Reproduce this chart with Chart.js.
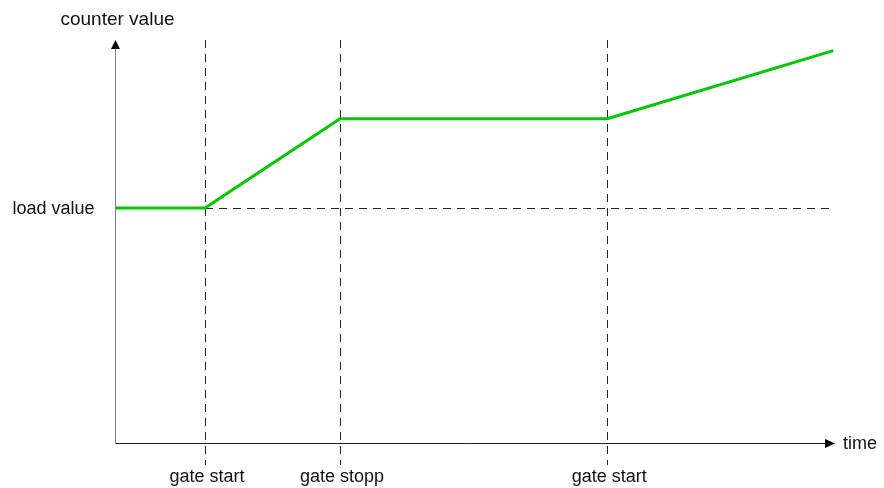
<!DOCTYPE html>
<html>
<head>
<meta charset="utf-8">
<title>counter value</title>
<script src="https://cdn.jsdelivr.net/npm/chart.js@4"></script>
<style>
  html, body { margin: 0; padding: 0; background: #fff; }
  #wrap { width: 884px; height: 488px; position: relative; }
</style>
</head>
<body>
<div id="wrap"><canvas id="counterChart"></canvas></div>
<script>
// time axis (arbitrary units) and counter value
var timePoints = [0, 1, 2.5, 5.47, 7.98];
var counterValues = [100, 100, 138, 138, 167];
var loadValue = 100;
var gateTimes = [1, 2.5, 5.47];
var gateLabels = ['gate start', 'gate stopp', 'gate start'];
var yLabel = 'counter value';
var xLabel = 'time';
var loadLabel = 'load value';

var FONT = '"Liberation Sans", Arial, sans-serif';

// axes, arrows, dashed guides and labels
var diagramPlugin = {
  id: 'diagram',
  beforeDatasetsDraw: function(chart) {
    var ctx = chart.ctx, area = chart.chartArea;
    var xs = chart.scales.x, ys = chart.scales.y;
    var yLoad = ys.getPixelForValue(loadValue);
    ctx.save();
    ctx.lineWidth = 1;
    ctx.strokeStyle = '#222';
    ctx.setLineDash([8, 6]);
    gateTimes.forEach(function(t) {
      var px = Math.round(xs.getPixelForValue(t)) + 0.5;
      ctx.beginPath();
      ctx.moveTo(px, area.top);
      ctx.lineTo(px, area.bottom + 22);
      ctx.stroke();
    });
    ctx.beginPath();
    ctx.moveTo(xs.getPixelForValue(gateTimes[0]), Math.round(yLoad) + 0.5);
    ctx.lineTo(xs.getPixelForValue(timePoints[timePoints.length - 1]), Math.round(yLoad) + 0.5);
    ctx.stroke();
    ctx.restore();
  },
  afterDatasetsDraw: function(chart) {
    var ctx = chart.ctx, area = chart.chartArea;
    var xs = chart.scales.x, ys = chart.scales.y;
    var x0 = Math.round(xs.getPixelForValue(0)) + 0.5;
    var y0 = Math.round(ys.getPixelForValue(0)) + 0.5;
    ctx.save();
    ctx.setLineDash([]);
    ctx.lineWidth = 1;
    // y axis
    ctx.strokeStyle = '#808080';
    ctx.beginPath();
    ctx.moveTo(x0, y0);
    ctx.lineTo(x0, area.top + 8);
    ctx.stroke();
    // x axis
    ctx.strokeStyle = '#222';
    ctx.beginPath();
    ctx.moveTo(x0, y0);
    ctx.lineTo(area.right - 9, y0);
    ctx.stroke();
    // arrows
    ctx.fillStyle = '#000';
    ctx.beginPath();
    ctx.moveTo(x0, area.top);
    ctx.lineTo(x0 - 4.5, area.top + 9);
    ctx.lineTo(x0 + 4.5, area.top + 9);
    ctx.closePath();
    ctx.fill();
    ctx.beginPath();
    ctx.moveTo(area.right, y0);
    ctx.lineTo(area.right - 10, y0 - 4.5);
    ctx.lineTo(area.right - 10, y0 + 4.5);
    ctx.closePath();
    ctx.fill();

    // texts
    ctx.fillStyle = '#111';
    ctx.textBaseline = 'alphabetic';
    ctx.font = '19px ' + FONT;
    ctx.textAlign = 'center';
    ctx.fillText(yLabel, x0 + 2, 25);
    ctx.font = '18px ' + FONT;
    ctx.textAlign = 'left';
    ctx.fillText(xLabel, area.right + 8, y0 + 5);
    ctx.textAlign = 'right';
    ctx.fillText(loadLabel, x0 - 21, ys.getPixelForValue(loadValue) + 6);
    ctx.textAlign = 'center';
    gateTimes.forEach(function(t, i) {
      ctx.fillText(gateLabels[i], xs.getPixelForValue(t) + 2, y0 + 38);
    });
    ctx.restore();
  }
};

var points = timePoints.map(function(t, i) { return { x: t, y: counterValues[i] }; });

var ctx = document.getElementById('counterChart').getContext('2d');
var myChart = new Chart(ctx, {
  type: 'line',
  data: {
    datasets: [{
      label: yLabel,
      data: points,
      borderColor: 'rgb(0,200,0)',
      borderWidth: 3,
      pointRadius: 0,
      tension: 0,
      fill: false
    }]
  },
  options: {
    responsive: true,
    maintainAspectRatio: false,
    animation: false,
    layout: { padding: { left: 115, right: 49, top: 40, bottom: 45 } },
    plugins: {
      legend: { display: false },
      tooltip: { enabled: false }
    },
    scales: {
      x: { type: 'linear', min: 0, max: 8, display: false },
      y: { type: 'linear', min: 0, max: 171.5, display: false }
    }
  },
  plugins: [diagramPlugin]
});
</script>
</body>
</html>
